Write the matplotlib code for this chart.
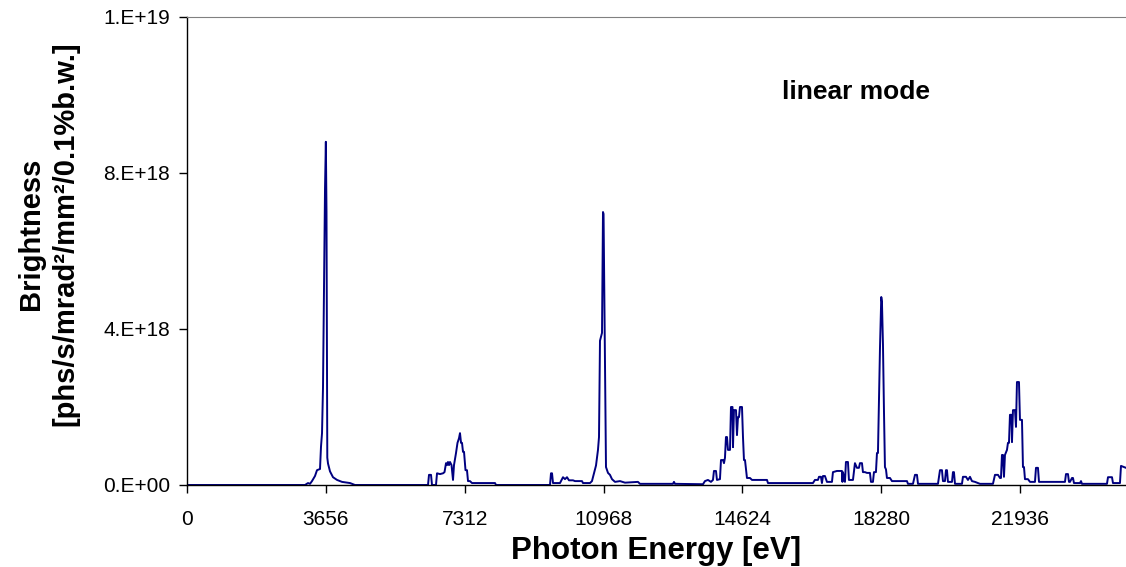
import numpy as np
import matplotlib
matplotlib.use("Agg")
import matplotlib.pyplot as plt

plt.rcParams['font.family'] = ['Liberation Sans', 'DejaVu Sans']

# Photon energy [eV] and brightness [1e18 phs/s/mrad^2/mm^2/0.1%b.w.]
energy = [
    0, 3107, 3186, 3239, 3291, 3370, 3423, 3502, 3528, 3555, 3581, 3607, 3634,
    3656, 3673, 3694, 3713, 3765, 3844, 3950, 4081, 4292, 4423,
    6346, 6372, 6425, 6451, 6556, 6583, 6662, 6741, 6780, 6820, 6846, 6872,
    6899, 6925, 6965, 7004, 7030, 7083, 7122, 7162, 7188, 7215, 7241, 7267,
    7294, 7333, 7372, 7399, 7451, 7504, 8110, 8136,
    9558, 9584, 9611, 9637, 9821, 9900, 9953, 10005, 10058, 10163, 10216,
    10400, 10427, 10611, 10663, 10716, 10769, 10821, 10848, 10874, 10927,
    10953, 10968, 11006, 11032, 11085, 11137, 11190, 11269, 11401, 11532,
    11874, 11927, 12453, 12795, 12822, 12848, 13586, 13638, 13717, 13796,
    13849, 13875, 13928, 13954, 14033, 14060, 14112, 14139, 14165, 14191,
    14218, 14244, 14297, 14323, 14363, 14376, 14402, 14455, 14481, 14507,
    14534, 14560, 14613, 14639, 14665, 14692, 14744, 14823, 14876, 15271,
    15297, 16481, 16534, 16613, 16641, 16692, 16718, 16745, 16797, 16850,
    16982, 17008, 17113, 17245, 17258, 17271, 17324, 17350, 17403, 17429,
    17535, 17587, 17640, 17692, 17719, 17772, 17798, 17851, 17903, 17982,
    18009, 18061, 18088, 18140, 18167, 18193, 18219, 18246, 18280, 18298,
    18325, 18351, 18377, 18404, 18430, 18509, 18562, 18957, 18983, 19115,
    19168, 19220, 19247, 19773, 19826, 19878, 19905, 19957, 19984, 20010,
    20036, 20142, 20168, 20194, 20221, 20405, 20431, 20510, 20563, 20616,
    20668, 20747, 20879, 21221, 21274, 21353, 21406, 21432, 21458, 21485,
    21511, 21537, 21590, 21616, 21643, 21669, 21708, 21722, 21748, 21801,
    21827, 21853, 21906, 21932, 21985, 22011, 22038, 22064, 22143, 22196,
    22327, 22354, 22406, 22433, 23117, 23144, 23196, 23223, 23249, 23302,
    23328, 23354, 23512, 23539, 23565, 24223, 24250, 24355, 24381, 24565,
    24592, 24724,
]
brightness = [
    0, 0, 0.05, 0.03, 0.10, 0.23, 0.38, 0.41, 0.98, 1.33, 2.51, 5.08, 7.60,
    8.80, 7.00, 0.70, 0.55, 0.35, 0.20, 0.13, 0.08, 0.05, 0,
    0, 0.26, 0.26, 0, 0, 0.30, 0.28, 0.30, 0.33, 0.56, 0.51, 0.59,
    0.51, 0.59, 0.51, 0.13, 0.51, 0.82, 1.08, 1.20, 1.33, 1.08, 1.08, 0.85,
    0.85, 0.38, 0.38, 0.10, 0.10, 0.05, 0.05, 0,
    0, 0.30, 0.30, 0.05, 0.05, 0.20, 0.15, 0.20, 0.12, 0.12, 0.10,
    0.10, 0.05, 0.05, 0.10, 0.30, 0.50, 0.90, 1.23, 3.70, 3.90,
    7.00, 6.95, 3.20, 0.46, 0.31, 0.26, 0.15, 0.08, 0.10, 0.06,
    0.08, 0.03, 0.03, 0.03, 0.08, 0.03, 0.02, 0.10, 0.13, 0.08,
    0.13, 0.36, 0.36, 0.13, 0.15, 0.64, 0.64, 0.56, 0.70, 1.23,
    1.23, 0.90, 0.90, 2.00, 2.00, 0.97, 1.92, 1.92, 1.28, 1.74,
    1.74, 2.00, 2.00, 1.23, 0.64, 0.64, 0.18, 0.18, 0.13, 0.13,
    0.05, 0.05, 0.13, 0.13, 0.21, 0.21, 0.05, 0.23, 0.23, 0.08,
    0.08, 0.33, 0.36, 0.36, 0.08, 0.33, 0.08, 0.59, 0.59, 0.13,
    0.13, 0.56, 0.44, 0.44, 0.56, 0.56, 0.33, 0.33, 0.31, 0.31,
    0.08, 0.08, 0.33, 0.33, 0.82, 0.82, 2.10, 3.50, 4.82, 4.70,
    3.60, 1.92, 0.46, 0.40, 0.18, 0.18, 0.10, 0.10, 0.03, 0.03,
    0.26, 0.26, 0.03, 0.03, 0.38, 0.38, 0.10, 0.10, 0.38, 0.38,
    0.08, 0.08, 0.33, 0.33, 0.03, 0.03, 0.21, 0.21, 0.13, 0.21,
    0.10, 0.08, 0.03, 0.03, 0.26, 0.26, 0.18, 0.18, 0.77, 0.77,
    0.21, 0.77, 0.90, 1.08, 1.08, 1.80, 1.80, 1.10, 1.92, 1.92,
    1.49, 2.64, 2.64, 1.67, 1.67, 0.46, 0.46, 0.15, 0.15, 0.08,
    0.08, 0.44, 0.44, 0.08, 0.08, 0.28, 0.28, 0.08, 0.08, 0.18,
    0.18, 0.05, 0.05, 0.10, 0.03, 0.03, 0.20, 0.20, 0.05, 0.05,
    0.49, 0.44,
]

x_ticks = [0, 3656, 7312, 10968, 14624, 18280, 21936]
y_ticks = [0, 4e18, 8e18, 1.2e19]
y_tick_labels = ["0.E+00", "4.E+18", "8.E+18", "1.E+19"]

fig = plt.figure(figsize=(11.26, 5.67), dpi=100)
ax = fig.add_axes([187 / 1126, 82 / 567, 939 / 1126, 468 / 567])

ax.plot(energy, np.array(brightness) * 1e18, color='#000080', linewidth=1.4)

ax.set_xlim(0, 24724)
ax.set_ylim(0, 1.2e19)

ax.set_xticks(x_ticks)
ax.set_xticklabels([str(t) for t in x_ticks])
ax.set_yticks(y_ticks)
ax.set_yticklabels(y_tick_labels)
ax.tick_params(axis='both', labelsize=15, length=6, width=1.0, color='black')
ax.tick_params(axis='x', pad=12)
ax.tick_params(axis='y', pad=6)

ax.spines['right'].set_visible(False)
ax.spines['top'].set_color('#808080')
ax.spines['left'].set_linewidth(1.0)
ax.spines['bottom'].set_linewidth(1.0)

ax.set_xlabel("Photon Energy [eV]", fontsize=22.5, fontweight='bold', labelpad=5)

# y title sits a bit above the axis centre in the original
fig.text(48 / 1126, 1 - 234 / 567, "Brightness\n[phs/s/mrad²/mm²/0.1%b.w.]",
         rotation=90, ha='center', va='center', multialignment='center',
         fontsize=21, fontweight='bold', linespacing=1.3)

ax.text(0.634, 0.84, "linear mode", transform=ax.transAxes, fontsize=19,
        fontweight='bold', va='center', ha='left')

fig.savefig("out.png", dpi=100)
